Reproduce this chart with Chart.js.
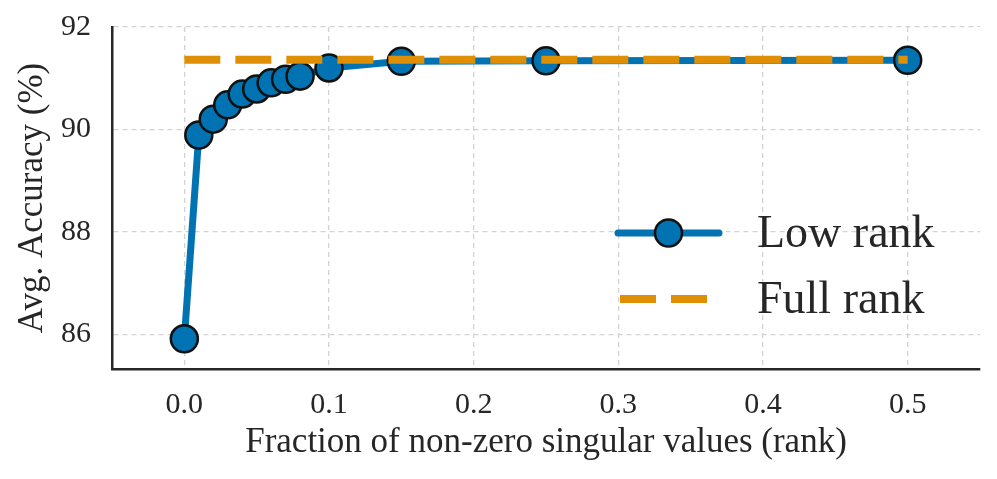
<!DOCTYPE html>
<html>
<head>
<meta charset="utf-8">
<script src="https://cdn.jsdelivr.net/npm/chart.js@4"></script>
<style>
  html, body { margin: 0; padding: 0; background: #ffffff; }
  #wrap { width: 997px; height: 479px; }
</style>
</head>
<body>
<div id="wrap"><canvas id="c" width="997" height="479"></canvas></div>
<script>
// ---- data ----
const fractions = [0, 0.01, 0.02, 0.03, 0.04, 0.05, 0.06, 0.07, 0.08, 0.1, 0.15, 0.25, 0.5];
const lowRankAcc = [85.91, 89.89, 90.2, 90.48, 90.69, 90.79, 90.91, 90.98, 91.04, 91.2, 91.33, 91.34, 91.35];
const fullRankX = [0, 0.5];
const fullRankAcc = [91.36, 91.36];
const xTicks = [0, 0.1, 0.2, 0.3, 0.4, 0.5];
const yTicks = [86, 88, 90, 92];
const seriesNames = ['Low rank', 'Full rank'];
const xTitle = 'Fraction of non-zero singular values (rank)';
const yTitle = 'Avg. Accuracy (%)';

const BLUE = '#0173B2';
const ORANGE = '#DE8F05';
const TEXT = '#262626';
const FONT = '"Liberation Serif", "Times New Roman", serif';

const inlineLegend = {
  id: 'inlineLegend',
  afterDraw(chart) {
    const ctx = chart.ctx;
    const a = chart.chartArea;
    const x0 = a.right - 362, x1 = a.right - 261, tx = a.right - 223;
    const rows = [a.bottom - 136, a.bottom - 70];
    ctx.save();
    // Low rank sample
    ctx.beginPath();
    ctx.strokeStyle = BLUE; ctx.lineWidth = 7; ctx.lineCap = 'round';
    ctx.moveTo(x0, rows[0]); ctx.lineTo(x1, rows[0]); ctx.stroke();
    ctx.beginPath();
    ctx.arc((x0 + x1) / 2, rows[0], 13.5, 0, Math.PI * 2);
    ctx.fillStyle = BLUE; ctx.fill();
    ctx.lineWidth = 2.5; ctx.strokeStyle = '#111111'; ctx.stroke();
    // Full rank sample
    ctx.beginPath();
    ctx.strokeStyle = ORANGE; ctx.lineWidth = 8; ctx.lineCap = 'butt';
    ctx.setLineDash([36, 15]);
    ctx.moveTo(x0 + 2, rows[1]); ctx.lineTo(x0 + 89, rows[1]); ctx.stroke();
    ctx.setLineDash([]);
    // labels
    ctx.fillStyle = TEXT;
    ctx.font = '46px ' + FONT;
    ctx.textBaseline = 'middle';
    ctx.textAlign = 'left';
    ctx.fillText(seriesNames[0], tx, rows[0] + 2);
    ctx.fillText(seriesNames[1], tx, rows[1] + 2);
    ctx.restore();
  }
};

new Chart(document.getElementById('c'), {
  type: 'line',
  data: {
    datasets: [
      {
        label: seriesNames[0],
        data: fractions.map((x, i) => ({ x: x, y: lowRankAcc[i] })),
        borderColor: BLUE,
        backgroundColor: BLUE,
        borderWidth: 7,
        borderJoinStyle: 'round',
        pointRadius: 13.5,
        pointBackgroundColor: BLUE,
        pointBorderColor: '#111111',
        pointBorderWidth: 2.5,
        tension: 0,
        order: 2
      },
      {
        label: seriesNames[1],
        data: fullRankX.map((x, i) => ({ x: x, y: fullRankAcc[i] })),
        borderColor: ORANGE,
        borderWidth: 8,
        borderDash: [36, 15],
        borderCapStyle: 'butt',
        pointRadius: 0,
        tension: 0,
        order: 1
      }
    ]
  },
  options: {
    responsive: false,
    animation: false,
    devicePixelRatio: 1,
    events: [],
    layout: { padding: { left: 0, right: 17, top: 27, bottom: 0 } },
    plugins: { legend: { display: false }, tooltip: { enabled: false } },
    scales: {
      x: {
        type: 'linear',
        min: -0.05,
        max: 0.55,
        afterFit: s => { s.height = 110; s.paddingLeft = 0; s.paddingRight = 0; },
        afterBuildTicks: s => { s.ticks = xTicks.map(v => ({ value: v })); },
        ticks: {
          color: TEXT,
          font: { family: FONT, size: 30 },
          padding: 18,
          maxRotation: 0,
          callback: v => Number(v).toFixed(1)
        },
        grid: { color: '#d3d3d3', lineWidth: 1.3, drawTicks: false },
        border: { display: true, color: TEXT, width: 2.5, dash: [5, 4] },
        title: {
          display: true, text: xTitle, color: TEXT,
          font: { family: FONT, size: 35 },
          padding: { top: 0, bottom: 15 }
        }
      },
      y: {
        type: 'linear',
        min: 85.32,
        max: 92,
        afterFit: s => { s.width = 112; s.paddingTop = 0; s.paddingBottom = 0; },
        afterBuildTicks: s => { s.ticks = yTicks.map(v => ({ value: v })); },
        ticks: {
          color: TEXT,
          font: { family: FONT, size: 30 },
          padding: 21,
          callback: v => String(v)
        },
        grid: { color: '#d3d3d3', lineWidth: 1.3, drawTicks: false },
        border: { display: true, color: TEXT, width: 2.5, dash: [5, 4] },
        title: {
          display: true, text: yTitle, color: TEXT,
          font: { family: FONT, size: 35 },
          padding: { top: 12, bottom: 0 }
        }
      }
    }
  },
  plugins: [inlineLegend]
});
</script>
</body>
</html>
